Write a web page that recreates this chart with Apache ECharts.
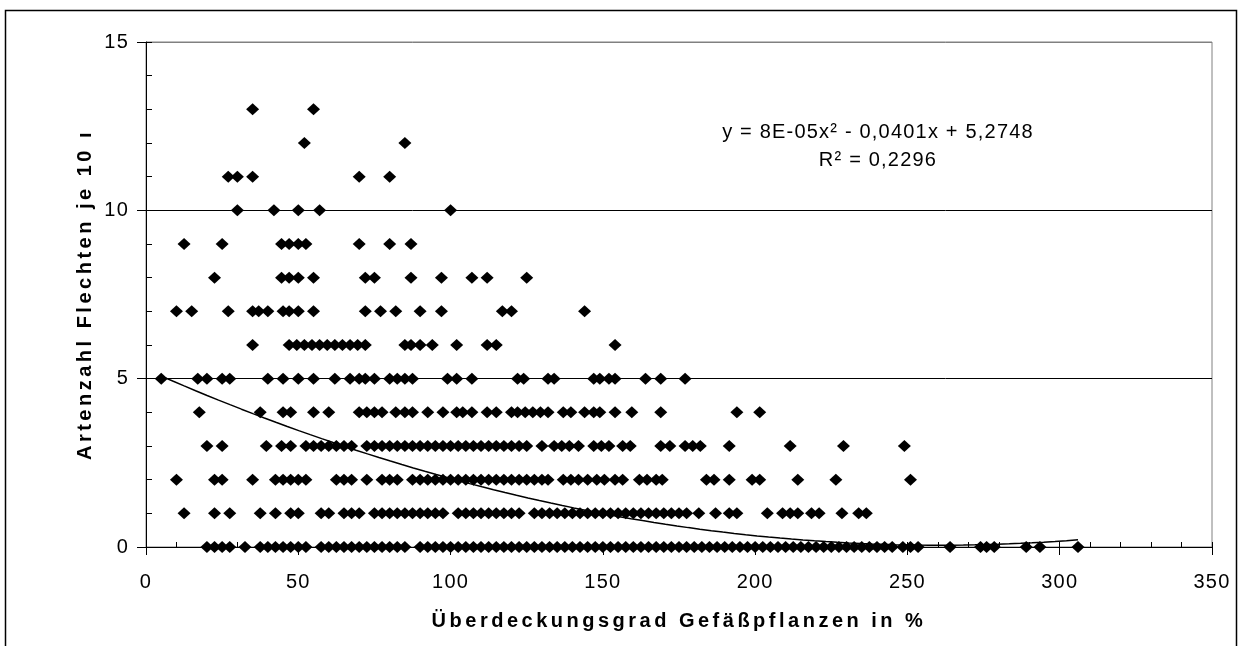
<!DOCTYPE html>
<html>
<head>
<meta charset="utf-8">
<script src="https://cdn.jsdelivr.net/npm/echarts@6/dist/echarts.min.js"></script>
<style>
  html, body { margin: 0; padding: 0; background: #fff; }
  #chart { width: 1240px; height: 646px; }
</style>
</head>
<body>
<div id="chart"></div>
<script>
// x values (Überdeckungsgrad in %) for each species count 0..13
const arten0 = [20, 22.5, 25, 27.5, 32.5, 37.5, 40, 42.5, 45, 47.5, 50, 52.5, 57.5, 60, 62.5, 65, 67.5, 70, 72.5, 75, 77.5, 80, 82.5, 85,
  90, 92.5, 95, 97.5, 100, 102.5, 105, 107.5, 110, 112.5, 115, 117.5, 120, 122.5, 125, 127.5, 130, 132.5, 135, 137.5, 140, 142.5,
  145, 147.5, 150, 152.5, 155, 157.5, 160, 162.5, 165, 167.5, 170, 172.5, 175, 177.5, 180, 182.5, 185, 187.5, 190, 192.5, 195,
  197.5, 200, 202.5, 205, 207.5, 210, 212.5, 215, 217.5, 220, 222.5, 225, 227.5, 230, 232.5, 235, 237.5, 240, 242.5, 245, 248.5,
  251, 253.5, 264, 274, 276, 278.5, 289, 293.5, 306];
const arten1 = [12.5, 22.5, 27.5, 37.5, 42.5, 47.5, 50, 57.5, 60, 65, 67.5, 70, 75, 77.5, 80, 82.5, 85, 87.5, 90, 92.5, 95, 97.5,
  102.5, 105, 107.5, 110, 112.5, 115, 117.5, 120, 122.5, 127.5, 130, 132.5, 135, 137.5, 140, 142.5, 145, 147.5, 150, 152.5, 155,
  157.5, 160, 162.5, 165, 167.5, 170, 172.5, 175, 177.5, 181.5, 187, 191.5, 194, 204, 209, 211.5, 214, 218.5, 221, 228.5, 234, 236.5];
const arten2 = [10, 22.5, 25, 35, 42.5, 45, 47.5, 50, 52.5, 62.5, 65, 67.5, 72.5, 77.5, 80, 82.5, 87.5, 90, 92.5, 95, 97.5, 100,
  102.5, 105, 107.5, 110, 112.5, 115, 117.5, 120, 122.5, 125, 127.5, 130, 132, 137, 139.5, 142, 145, 148, 150.5, 154, 156.5, 162,
  164.5, 167.5, 169.5, 184, 186.5, 191.5, 199, 201.5, 214, 226.5, 251];
const arten3 = [20, 25, 39.5, 44.5, 47.5, 52.5, 55, 57.5, 60, 62.5, 65, 67.5, 72.5, 75, 77.5, 80, 82.5, 85, 87.5, 90, 92.5, 95,
  97.5, 100, 102.5, 105, 107.5, 110, 112.5, 115, 117.5, 120, 122.5, 125, 130, 134, 136.5, 139, 142, 147, 149.5, 152, 156.5, 159,
  169, 172, 177, 179.5, 182, 191.5, 211.5, 229, 249];
const arten4 = [17.5, 37.5, 45, 47.5, 55, 60, 70, 72.5, 75, 77.5, 82, 85, 87.5, 92.5, 97.5, 102, 104, 107, 112, 115, 120, 122,
  124.5, 127, 129.5, 132, 137, 139.5, 144, 147, 149, 154, 159.5, 169, 194, 201.5];
const arten5 = [5, 17, 20, 25, 27.5, 40, 45, 50, 55, 62, 67, 70, 72, 75, 80, 82.5, 85, 87.5, 99, 102, 107, 122, 124, 132, 134,
  147, 149, 152, 154, 164, 169, 177];
const arten6 = [35, 47, 49.5, 52, 54.5, 57, 59.5, 62, 64.5, 67, 69.5, 72, 85, 87, 90, 94, 102, 112, 115, 154];
const arten7 = [10, 15, 27, 35, 37, 40, 45, 47, 50, 55, 72, 77, 82, 90, 97, 117, 120, 144];
const arten8 = [22.5, 44.5, 47, 50, 55, 72, 75, 87, 97, 107, 112, 125];
const arten9 = [12.5, 25, 44.5, 47, 50, 52.5, 70, 80, 87];
const arten10 = [30, 42, 50, 57, 100];
const arten11 = [27, 30, 35, 70, 80];
const arten12 = [52, 85];
const arten13 = [35, 55];
const artenRows = [arten0, arten1, arten2, arten3, arten4, arten5, arten6, arten7, arten8, arten9, arten10, arten11, arten12, arten13];

// trendline y = c0 + c1 x + c2 x^2 (label shows c2 rounded to 8E-05, curve end fits ~7.7E-05)
const trendCoef = [5.2748, -0.0401, 7.7e-5];
const equationText = 'y = 8E-05x² - 0,0401x + 5,2748';
const rSquaredText = 'R² = 0,2296';

const points = [];
artenRows.forEach((xs, y) => xs.forEach(x => points.push([x, y])));

const xs = points.map(p => p[0]);
const xMin = Math.min(...xs), xMax = Math.max(...xs);
const trend = [];
for (let i = 0; i <= 80; i++) {
  const x = xMin + (xMax - xMin) * i / 80;
  trend.push([x, trendCoef[0] + trendCoef[1] * x + trendCoef[2] * x * x]);
}

// Excel look: spaced letters
const fillText = CanvasRenderingContext2D.prototype.fillText;
CanvasRenderingContext2D.prototype.fillText = function () {
  this.letterSpacing = /bold/.test(this.font) ? '3.5px' : '1.2px';
  return fillText.apply(this, arguments);
};

const FONT = '"Liberation Sans", Arial, sans-serif';
const chart = echarts.init(document.getElementById('chart'));

const option = {
  animation: false,
  backgroundColor: '#fff',
  textStyle: { fontFamily: FONT },
  grid: { left: 146, right: 28, top: 42, bottom: 99, show: true, borderColor: '#808080', borderWidth: 1 },
  graphic: [
    { type: 'rect', shape: { x: 5.5, y: 10.5, width: 1231, height: 700 }, style: { fill: 'none', stroke: '#000', lineWidth: 1.5 }, z: 0 },
    { type: 'text', x: 878, y: 132, style: { text: equationText, font: '20px ' + FONT, fill: '#000', textAlign: 'center', textVerticalAlign: 'middle' } },
    { type: 'text', x: 878, y: 160, style: { text: rSquaredText, font: '20px ' + FONT, fill: '#000', textAlign: 'center', textVerticalAlign: 'middle' } }
  ],
  xAxis: [{
    type: 'value', min: 0, max: 350, interval: 50,
    name: 'Überdeckungsgrad Gefäßpflanzen in %', nameLocation: 'middle', nameGap: 64,
    nameTextStyle: { fontSize: 20, fontWeight: 'bold', color: '#000' },
    axisLine: { lineStyle: { color: '#000', width: 1 } },
    axisTick: { inside: false, length: 8, lineStyle: { color: '#000' } },
    axisLabel: { fontSize: 20, color: '#000', margin: 25 },
    splitLine: { show: false }
  }, {
    type: 'value', min: 0, max: 350, interval: 10, position: 'bottom',
    axisLine: { show: false },
    axisTick: { inside: true, length: 5, lineStyle: { color: '#000' } },
    axisLabel: { show: false }, splitLine: { show: false }
  }],
  yAxis: [{
    type: 'value', min: 0, max: 15, interval: 5,
    name: 'Artenzahl Flechten je 10 ı', nameLocation: 'middle', nameGap: 47,
    nameTextStyle: { fontSize: 20, fontWeight: 'bold', color: '#000' },
    axisLine: { show: true, lineStyle: { color: '#000', width: 1 } },
    axisTick: { show: true, inside: false, length: 9, lineStyle: { color: '#000' } },
    axisLabel: { fontSize: 20, color: '#000', margin: 17 },
    splitLine: { show: true, lineStyle: { color: ['#000', '#000', '#000', '#808080'], width: 1 } }
  }, {
    type: 'value', min: 0, max: 15, interval: 1, position: 'left', offset: 0,
    axisLine: { show: false },
    axisTick: { show: true, inside: true, length: 6, lineStyle: { color: '#000' } },
    axisLabel: { show: false }, splitLine: { show: false }
  }],
  series: [{
    type: 'scatter',
    data: points,
    symbol: 'diamond',
    symbolSize: [13, 12],
    itemStyle: { color: '#000', opacity: 1 },
    z: 3
  }, {
    type: 'line',
    data: trend,
    showSymbol: false,
    smooth: false,
    lineStyle: { color: '#000', width: 1.5 },
    z: 4
  }]
};
chart.setOption(option);
</script>
</body>
</html>
